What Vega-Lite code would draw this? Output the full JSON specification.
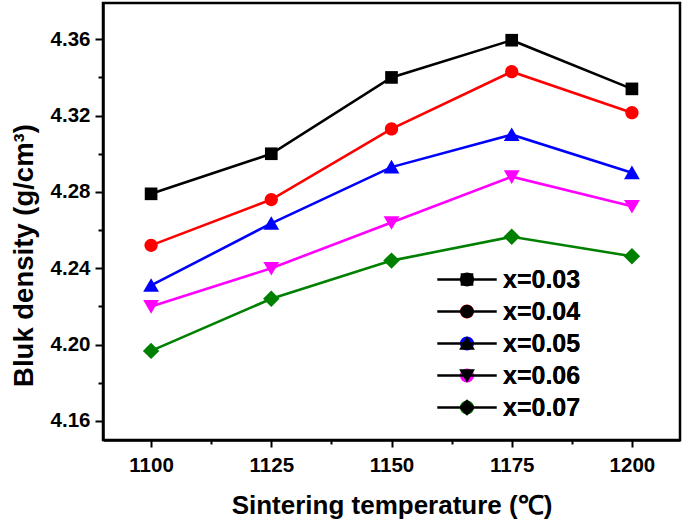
{
  "$schema": "https://vega.github.io/schema/vega-lite/v6.json",
  "width": 577,
  "height": 437,
  "autosize": {"type": "none"},
  "padding": {"left": 103, "top": 3, "right": 5, "bottom": 83},
  "background": "white",
  "data": {"values": [
    {"T": 1100, "d": 4.279, "s": "x=0.03"},
    {"T": 1125, "d": 4.300, "s": "x=0.03"},
    {"T": 1150, "d": 4.340, "s": "x=0.03"},
    {"T": 1175, "d": 4.3595, "s": "x=0.03"},
    {"T": 1200, "d": 4.334, "s": "x=0.03"},
    {"T": 1100, "d": 4.252, "s": "x=0.04"},
    {"T": 1125, "d": 4.276, "s": "x=0.04"},
    {"T": 1150, "d": 4.313, "s": "x=0.04"},
    {"T": 1175, "d": 4.343, "s": "x=0.04"},
    {"T": 1200, "d": 4.3215, "s": "x=0.04"},
    {"T": 1100, "d": 4.231, "s": "x=0.05"},
    {"T": 1125, "d": 4.2635, "s": "x=0.05"},
    {"T": 1150, "d": 4.293, "s": "x=0.05"},
    {"T": 1175, "d": 4.310, "s": "x=0.05"},
    {"T": 1200, "d": 4.290, "s": "x=0.05"},
    {"T": 1100, "d": 4.220, "s": "x=0.06"},
    {"T": 1125, "d": 4.240, "s": "x=0.06"},
    {"T": 1150, "d": 4.264, "s": "x=0.06"},
    {"T": 1175, "d": 4.288, "s": "x=0.06"},
    {"T": 1200, "d": 4.2725, "s": "x=0.06"},
    {"T": 1100, "d": 4.1967, "s": "x=0.07"},
    {"T": 1125, "d": 4.224, "s": "x=0.07"},
    {"T": 1150, "d": 4.244, "s": "x=0.07"},
    {"T": 1175, "d": 4.2565, "s": "x=0.07"},
    {"T": 1200, "d": 4.2463, "s": "x=0.07"}
  ]},
  "encoding": {
    "x": {
      "field": "T", "type": "quantitative",
      "scale": {"domain": [1090, 1210], "nice": false, "zero": false},
      "axis": {
        "title": "Sintering temperature (℃)",
        "values": [1100, 1112.5, 1125, 1137.5, 1150, 1162.5, 1175, 1187.5, 1200],
        "labelExpr": "datum.value % 25 == 0 ? datum.label : ''",
        "format": "d",
        "tickSize": {"condition": {"test": "datum.value % 25 == 0", "value": 7}, "value": 4},
        "labelPadding": 8,
        "titlePadding": 17,
        "grid": false
      }
    },
    "y": {
      "field": "d", "type": "quantitative",
      "scale": {"domain": [4.15, 4.379], "nice": false, "zero": false},
      "axis": {
        "title": "Bluk density (g/cm³)",
        "values": [4.16, 4.18, 4.2, 4.22, 4.24, 4.26, 4.28, 4.3, 4.32, 4.34, 4.36],
        "labelExpr": "round(datum.value * 100) % 4 == 0 ? datum.label : ''",
        "format": ".2f",
        "tickSize": {"condition": {"test": "round(datum.value * 100) % 4 == 0", "value": 8}, "value": 5},
        "labelPadding": 5,
        "titlePadding": 12,
        "titleFontSize": 27.5,
        "titleY": 252,
        "grid": false
      }
    },
    "color": {
      "field": "s", "type": "nominal",
      "scale": {"domain": ["x=0.03", "x=0.04", "x=0.05", "x=0.06", "x=0.07"], "range": ["#000000", "#FF0000", "#0000FF", "#FF00FF", "#008000"]},
      "legend": {
        "title": null,
        "orient": "none",
        "legendX": 351.5,
        "legendY": 264,
        "symbolSize": 160,
        "symbolOpacity": 1,
        "labelOffset": 23.5,
        "rowPadding": 6
      }
    }
  },
  "layer": [
    {
      "mark": {"type": "line", "strokeWidth": 2.6}
    },
    {
      "mark": {"type": "point", "filled": true, "size": 160, "opacity": 1},
      "encoding": {
        "shape": {
          "field": "s", "type": "nominal",
          "scale": {"domain": ["x=0.03", "x=0.04", "x=0.05", "x=0.06", "x=0.07"], "range": [
            "M-1,-1H1V1H-1Z",
            "M-1.05,0A1.05,1.05,0,1,1,1.05,0A1.05,1.05,0,1,1,-1.05,0Z",
            "M0,-1.15L1.25,1.0L-1.25,1.0Z",
            "M0,1.15L-1.25,-1.0L1.25,-1.0Z",
            "M0,-1.3L1.3,0L0,1.3L-1.3,0Z"
          ]},
          "legend": null
        }
      }
    },
    {
      "mark": {"type": "point", "filled": true, "size": 160, "opacity": 0},
      "encoding": {
        "shape": {
          "field": "s", "type": "nominal",
          "scale": {"domain": ["x=0.03", "x=0.04", "x=0.05", "x=0.06", "x=0.07"], "range": [
            "M-4.7,-0.2H4.7V0.2H-4.7ZM-1,-1H1V1H-1Z",
            "M-4.7,-0.2H4.7V0.2H-4.7ZM-1.05,0A1.05,1.05,0,1,1,1.05,0A1.05,1.05,0,1,1,-1.05,0Z",
            "M-4.7,-0.2H4.7V0.2H-4.7ZM0,-1.15L1.25,1.0L-1.25,1.0Z",
            "M-4.7,-0.2H4.7V0.2H-4.7ZM0,1.15L-1.25,-1.0L1.25,-1.0Z",
            "M-4.7,-0.2H4.7V0.2H-4.7ZM0,-1.3L1.3,0L0,1.3L-1.3,0Z"
          ]},
          "legend": {
            "title": null,
            "orient": "none",
            "legendX": 351.5,
            "legendY": 264,
            "symbolSize": 160,
            "symbolOpacity": 1,
            "labelOffset": 23.5,
            "rowPadding": 6
          }
        }
      }
    }
  ],
  "resolve": {"scale": {"shape": "independent"}},
  "config": {
    "view": {"stroke": "#000000", "strokeWidth": 2.5},
    "font": "Liberation Sans",
    "axis": {
      "domainColor": "#000000",
      "domainWidth": 2.5,
      "tickColor": "#000000",
      "tickWidth": 2,
      "labelFont": "Liberation Sans",
      "labelFontSize": 20.5,
      "labelFontWeight": "bold",
      "labelColor": "#000000",
      "titleFont": "Liberation Sans",
      "titleFontSize": 26,
      "titleFontWeight": "bold",
      "titleColor": "#000000"
    },
    "legend": {
      "labelFont": "Liberation Sans",
      "labelFontSize": 25,
      "labelFontWeight": "bold",
      "labelColor": "#000000",
      "padding": 0
    }
  }
}
